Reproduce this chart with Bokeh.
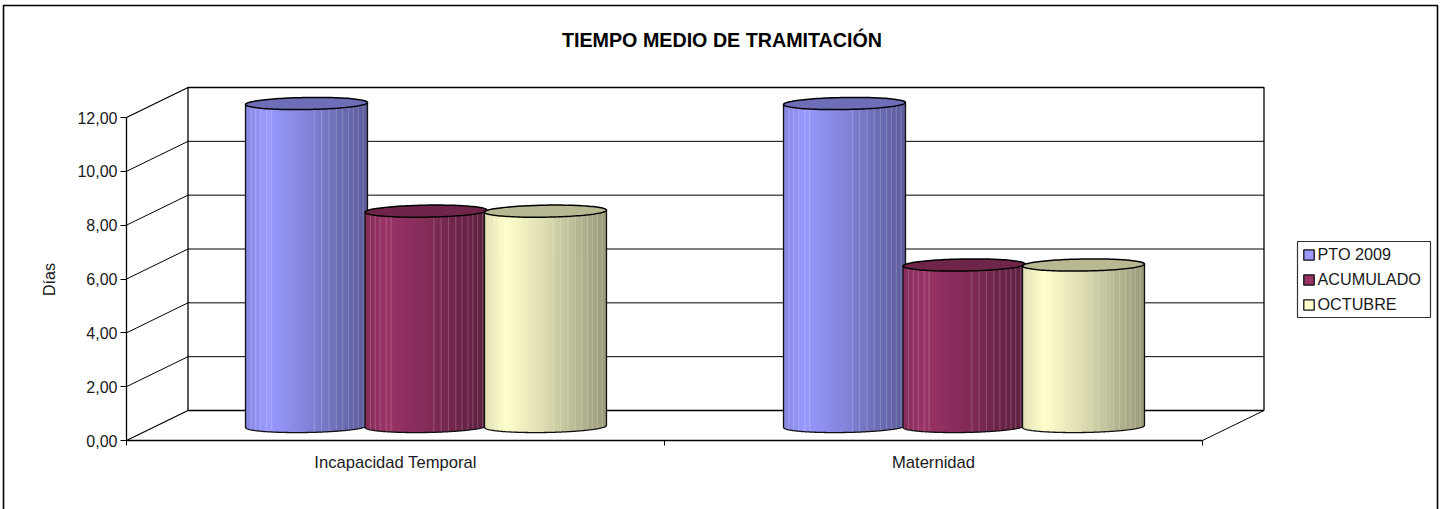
import math
from bokeh.plotting import figure
from bokeh.models import Legend, LegendItem, LinearAxis, FixedTicker, Label
from bokeh.embed import file_html
from bokeh.resources import INLINE

TITLE = "TIEMPO MEDIO DE TRAMITACIÓN"
AXIS_TITLE = "Días"
categories = ["Incapacidad Temporal", "Maternidad"]
series_names = ["PTO 2009", "ACUMULADO", "OCTUBRE"]
pto_2009 = [12.0, 12.0]
acumulado = [8.0, 6.0]
octubre = [8.0, 6.0]
y_ticks = [0, 2, 4, 6, 8, 10, 12]
y_tick_labels = ["0,00", "2,00", "4,00", "6,00", "8,00", "10,00", "12,00"]
series_colors = [(0x99, 0x99, 0xFF), (0x99, 0x33, 0x66), (0xFF, 0xFF, 0xCC)]

FONT = "Liberation Sans"
W, H = 1439, 509
X0_PX, Y0_PX = 126, 440  # picture position of the origin
PX_X = 538               # px per category
PX_Y = 323 / 12          # px per value unit

xpx = lambda v: v / PX_X
ypx = lambda v: v / PX_Y
X = lambda px: (px - X0_PX) / PX_X
Y = lambda px: (Y0_PX - px) / PX_Y

p = figure(width=W, height=H, output_backend="svg", toolbar_location=None,
           x_range=(X(0), X(W)), y_range=(Y(H), Y(0)),
           min_border=0, x_axis_type=None, y_axis_type=None,
           background_fill_color="white", border_fill_color="white")
p.outline_line_color = None
p.xgrid.visible = False
p.ygrid.visible = False

DX, DY = xpx(61.5), ypx(30)   # 3D depth
n_cat = len(categories)
top = y_ticks[-1]
BLACK = "#000000"
TEXT = "#1a1a1a"

# outer frame (open at the bottom, as in the picture)
p.line([X(3), X(3), X(1437), X(1437)], [Y(H), Y(5), Y(5), Y(H)], line_color=BLACK, line_width=1.6)

# walls and floor
p.line([DX, DX, n_cat + DX, n_cat + DX], [DY, top + DY, top + DY, DY], line_color=BLACK, line_width=1.3)
p.line([0, DX], [top, top + DY], line_color=BLACK, line_width=1.3)
for t in y_ticks[:-1]:
    w = 1.3 if t == 0 else 1.0
    p.line([0, DX, n_cat + DX], [t, t + DY, t + DY], line_color=BLACK, line_width=w)
p.line([n_cat, n_cat + DX], [0, DY], line_color=BLACK, line_width=1.0)

# axes
p.add_layout(LinearAxis(fixed_location=0, bounds=(0, top), ticker=FixedTicker(ticks=y_ticks),
                        major_label_overrides=dict(zip(y_ticks, y_tick_labels)),
                        major_tick_out=6, major_tick_in=0, minor_tick_line_color=None,
                        major_label_standoff=3, major_label_text_font=FONT,
                        major_label_text_font_size="16px", major_label_text_color=TEXT,
                        axis_line_width=1.3, major_tick_line_width=1.0), "left")
p.add_layout(LinearAxis(fixed_location=0, bounds=(0, n_cat), ticker=FixedTicker(ticks=list(range(n_cat + 1))),
                        major_label_text_color=None, major_label_text_font_size="1px",
                        major_tick_out=5, major_tick_in=0, minor_tick_line_color=None,
                        axis_line_width=1.3), "below")
centers = [i + 0.5 for i in range(n_cat)]
p.add_layout(LinearAxis(fixed_location=0, ticker=FixedTicker(ticks=centers), bounds=(0, n_cat),
                        major_label_overrides=dict(zip(centers, categories)),
                        axis_line_color=None, major_tick_line_color=None, minor_tick_line_color=None,
                        major_label_standoff=6, major_label_text_font=FONT,
                        major_label_text_font_size="16.6px", major_label_text_color=TEXT), "below")

# cylinders
STOPS = [(0.0, 0.88), (0.17, 1.0), (0.5, 0.86), (0.75, 0.72), (1.0, 0.60)]
LIGHT = [.04, .08, .12, .17, .21, .56, .62, .68, .74, .79, .84, .88, .92, .96]
CAP = 0.72
BAR_W = xpx(122)
STEP = xpx(119.5)
BZ = ypx(14)   # lift of the cylinder base (half depth)
BX = xpx(30.5)
A = BAR_W / 2
B = ypx(6)
TILT = ypx(2) / BAR_W


def shade(c, k, mix=0.0):
    r = [min(255, v * k) for v in c]
    r = [v + (255 - v) * mix for v in r]
    return "#%02x%02x%02x" % tuple(int(round(v)) for v in r)


def factor(f):
    for (a, ka), (b, kb) in zip(STOPS, STOPS[1:]):
        if f <= b:
            return ka + (kb - ka) * (f - a) / (b - a)
    return STOPS[-1][1]


def ell(u):
    return B * math.sqrt(max(0.0, 1 - u * u))


for i in range(n_cat):
    for s, vals in enumerate([pto_2009, acumulado, octubre]):
        cx = centers[i] + BX + (s - 1) * STEP
        base, col = BZ, series_colors[s]
        T = vals[i] + BZ
        N = 122
        left, right, bottom, tp, colors = [], [], [], [], []
        for k in range(N):
            f0 = k / N
            x0 = cx - A + f0 * BAR_W
            x1 = x0 + BAR_W / N * (1.6 if k < N - 1 else 1)
            u = 2 * (f0 + 0.5 / N) - 1
            left.append(x0); right.append(x1)
            bottom.append(base - ell(u) + u * A * TILT)
            tp.append(T + u * A * TILT)
            colors.append(shade(col, factor(f0)))
        p.quad(left=left, right=right, bottom=bottom, top=tp, fill_color=colors, line_color=None)
        # lighter thin stripes
        ll, lr, lb, lt, lc = [], [], [], [], []
        for f in LIGHT:
            u = 2 * f - 1
            x = cx - A + f * BAR_W
            ll.append(x); lr.append(x + BAR_W / N)
            lb.append(base - ell(u) + u * A * TILT)
            lt.append(T + u * A * TILT)
            lc.append(shade(col, factor(f), 0.2))
        p.quad(left=ll, right=lr, bottom=lb, top=lt, fill_color=lc, line_color=None)
        # outline: sides and lower arc
        us = [j / 60 - 1 for j in range(121)]
        ax = [cx + u * A for u in us]
        ay = [base - ell(u) + u * A * TILT for u in us]
        p.line([cx - A] + ax + [cx + A], [T - A * TILT] + ay + [T + A * TILT],
               line_color="#111111", line_width=1.3)
        # top cap
        th = [j * math.pi / 60 for j in range(121)]
        cpx = [cx + A * math.cos(t) for t in th]
        cpy = [T + B * math.sin(t) + A * math.cos(t) * TILT for t in th]
        p.patch(cpx, cpy, fill_color=shade(col, CAP), line_color=BLACK, line_width=1.5)

# texts
p.add_layout(Label(x=X(721.5), y=Y(39), text=TITLE, text_font=FONT, text_font_style="bold",
                   text_font_size="19.7px", text_align="center", text_baseline="middle", text_color=BLACK))
p.add_layout(Label(x=X(48.5), y=Y(279), text=AXIS_TITLE, text_font=FONT, angle=90, angle_units="deg",
                   text_font_size="16px", text_align="center", text_baseline="middle", text_color=TEXT))

# legend box and entries
p.quad(left=[X(1297)], right=[X(1430)], bottom=[Y(317)], top=[Y(241)],
       fill_color="white", line_color="#333333", line_width=1.2)
items = []
nan = float("nan")
for name, c in zip(series_names, series_colors):
    r = p.quad(left=[nan], right=[nan], bottom=[nan], top=[nan], fill_color=shade(c, 1.0),
               line_color="#111111", line_width=1.3)
    items.append(LegendItem(label=name, renderers=[r]))
leg = Legend(items=items, location=(1301.5, H - 314.5), orientation="vertical",
             label_text_font=FONT, label_text_font_size="16.2px", label_text_color=TEXT,
             glyph_width=13, glyph_height=13, label_standoff=3, spacing=5, padding=4, margin=0,
             label_height=20, border_line_color=None,
             background_fill_alpha=0.0)
p.add_layout(leg, "center")

open("out.html", "w").write(file_html(p, INLINE))
